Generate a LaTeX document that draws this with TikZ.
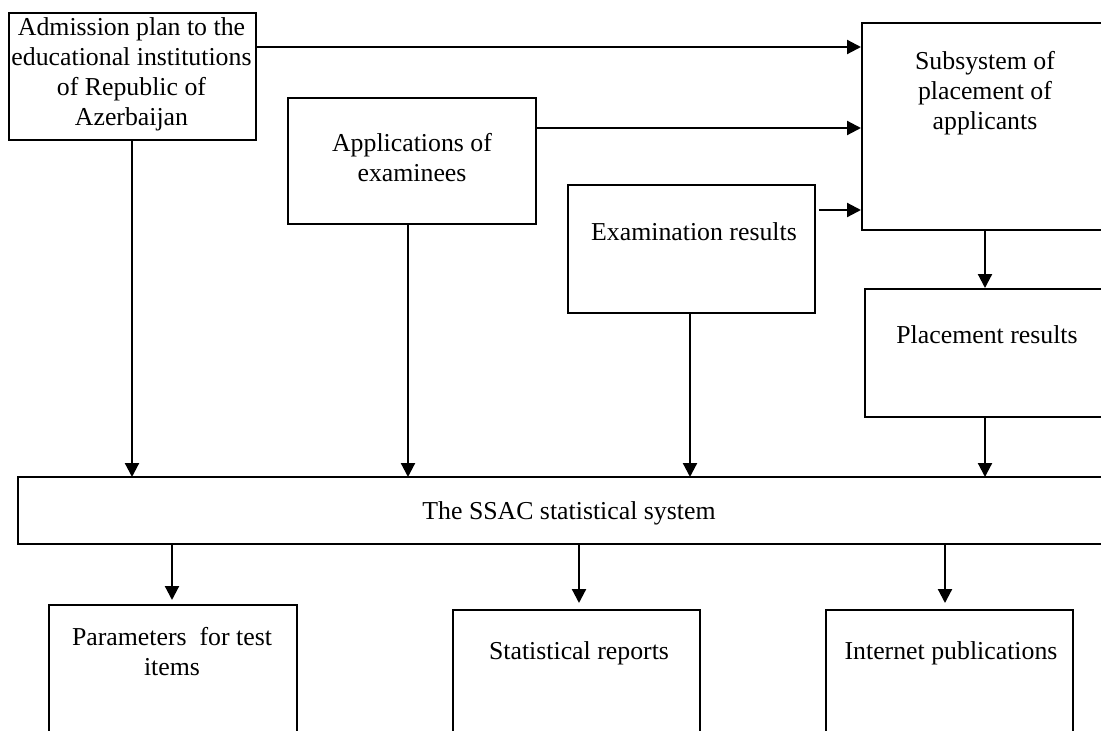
\documentclass[tikz,border=0pt]{standalone}
\usepackage{fontspec}
\setmainfont{Liberation Serif}
\usetikzlibrary{arrows.meta}
\begin{document}
\begin{tikzpicture}[x=1pt,y=-1pt,
  box/.style 2 args={draw,line width=2pt,minimum width=#1pt,minimum height=#2pt,inner sep=0pt,anchor=north west},
  lbl/.style={align=center,inner sep=0pt,font=\fontsize{25.8}{30}\selectfont},
  arr/.style={line width=2.2pt,-{Triangle[length=14pt,width=14pt]}}]
\useasboundingbox (0,0) rectangle (1101,731);
\clip (0,0) rectangle (1101,731);
% boxes
\node[box={247}{127}] (adm) at (8,12) {};
\node[box={248}{126}] (app) at (287,97) {};
\node[box={249}{207}] (sub) at (861,22) {};
\node[box={247}{128}] (exam) at (567,184) {};
\node[box={246}{128}] (plc) at (864,288) {};
\node[box={1104}{67}] (ssac) at (17,476) {};
\node[box={248}{145}] (par) at (48,604) {};
\node[box={247}{140}] (stat) at (452,609) {};
\node[box={247}{140}] (inet) at (825,609) {};
% texts
\node[lbl] (admT) at (131.5,74) {Admission plan to the\\educational institutions\\of Republic of\\Azerbaijan};
\node[lbl] (appT) at (412,158) {Applications of\\examinees};
\node[lbl] (subT) at (985,93) {Subsystem of\\placement of\\applicants};
\node[lbl] (examT) at (694,232) {Examination results};
\node[lbl] (plcT) at (987,335) {Placement results};
\node[lbl] (ssacT) at (569,513) {The SSAC statistical system};
\node[lbl] (parT) at (172,652) {Parameters\ \ for test\\items};
\node[lbl] (statT) at (579,653) {Statistical reports};
\node[lbl] (inetT) at (951,653) {Internet publications};
% connectors
\draw[arr] (adm.east |- 0,47) -- (sub.west |- 0,47);
\draw[arr] (app.east |- 0,128) -- (sub.west |- 0,128);
\draw[arr] ([xshift=3pt]exam.east |- 0,210) -- (sub.west |- 0,210);
\draw[arr] (sub.south -| 985,0) -- (plc.north -| 985,0);
\draw[arr] (adm.south -| 132,0) -- ([yshift=-1pt]ssac.north -| 132,0);
\draw[arr] (app.south -| 408,0) -- ([yshift=-1pt]ssac.north -| 408,0);
\draw[arr] (exam.south -| 690,0) -- ([yshift=-1pt]ssac.north -| 690,0);
\draw[arr] (plc.south -| 985,0) -- ([yshift=-1pt]ssac.north -| 985,0);
\draw[arr] (ssac.south -| 172,0) -- ([yshift=4pt]par.north -| 172,0);
\draw[arr] (ssac.south -| 579,0) -- ([yshift=6pt]stat.north -| 579,0);
\draw[arr] (ssac.south -| 945,0) -- ([yshift=6pt]inet.north -| 945,0);
\end{tikzpicture}
\end{document}
